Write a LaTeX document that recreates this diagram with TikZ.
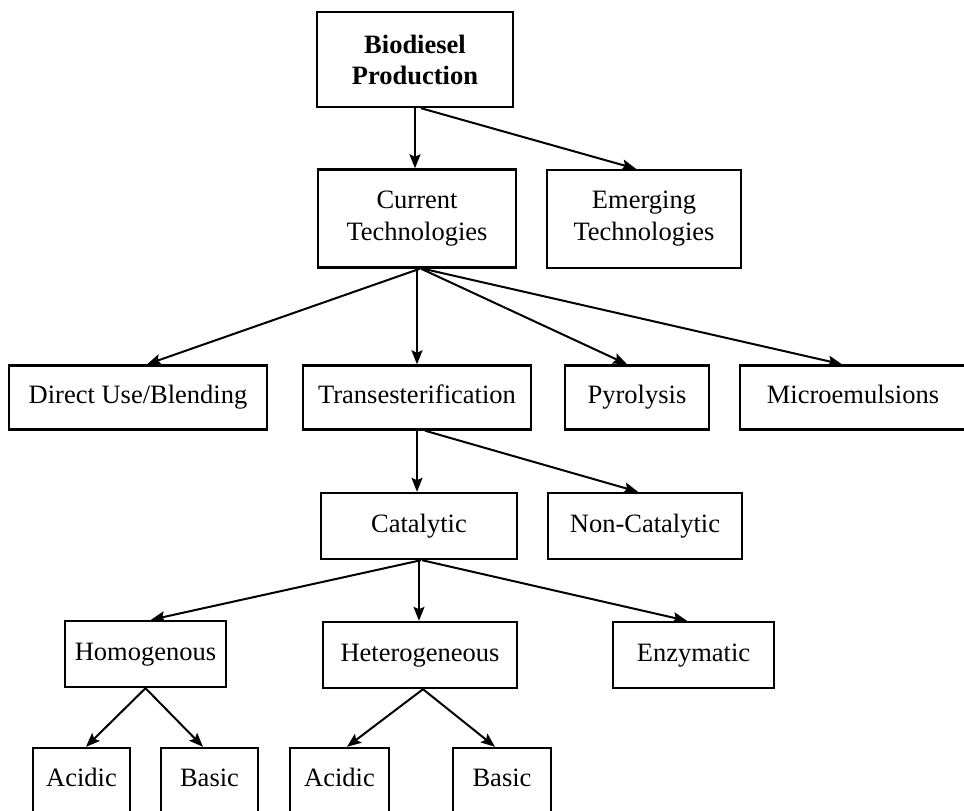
\documentclass[tikz,border=0pt]{standalone}
\usepackage{fontspec}
\setmainfont{Liberation Serif}
\usetikzlibrary{arrows.meta}
\begin{document}
\begin{tikzpicture}[x=1pt,y=-1pt,
  box/.style={draw, line width=2.4pt, rectangle, inner sep=0pt, align=center,
    font=\fontsize{26.5}{32}\selectfont},
  onebox/.style={box, text height=18pt, text depth=6pt},
  arr/.style={line width=2pt, -{Stealth[length=14pt,width=11pt,inset=2.5pt]}}]
\useasboundingbox (0,0) rectangle (964,811);
\clip (0,0) rectangle (964,811);
% row 1
\node[box, minimum width=196pt, minimum height=95pt,
      font=\bfseries\fontsize{26.5}{31}\selectfont] (bio) at (415,59.5) {Biodiesel\\Production};
% row 2
\node[box, minimum width=198pt, minimum height=98pt] (cur) at (417,218.5) {Current\\Technologies};
\node[box, minimum width=194pt, minimum height=98pt] (emer) at (644,219) {Emerging\\Technologies};
% row 3
\node[onebox, minimum width=258pt, minimum height=64pt] (direct) at (138,397.5) {Direct Use/Blending};
\node[onebox, minimum width=228pt, minimum height=64pt] (trans) at (417,397.5) {Transesterification};
\node[onebox, minimum width=144pt, minimum height=64pt] (pyro) at (637,397.5) {Pyrolysis};
\node[onebox, minimum width=226pt, minimum height=64pt] (micro) at (853,397.5) {Microemulsions};
% row 4
\node[onebox, minimum width=196pt, minimum height=66pt] (cat) at (419,526) {Catalytic};
\node[onebox, minimum width=194pt, minimum height=66pt] (noncat) at (645,526) {Non-Catalytic};
% row 5
\node[onebox, minimum width=161pt, minimum height=66pt] (homog) at (145.5,654) {Homogenous};
\node[onebox, minimum width=194pt, minimum height=66pt] (hetero) at (420,655) {Heterogeneous};
\node[onebox, minimum width=161pt, minimum height=66pt] (enzy) at (693.5,655) {Enzymatic};
% row 6
\node[onebox, minimum width=97pt, minimum height=64pt] (a1) at (81.5,780) {Acidic};
\node[onebox, minimum width=97pt, minimum height=64pt] (b1) at (209.5,780) {Basic};
\node[onebox, minimum width=99pt, minimum height=64pt] (a2) at (339.5,780) {Acidic};
\node[onebox, minimum width=98pt, minimum height=64pt] (b2) at (502,780) {Basic};
% arrows
\draw[arr] (bio.south) -- (bio.south |- cur.north);
\draw[arr] ([xshift=6pt]bio.south) -- ([xshift=-8pt]emer.north);
\draw[arr] ([xshift=3pt]cur.south) -- ([xshift=9pt]direct.north);
\draw[arr] (cur.south) -- (cur.south |- trans.north);
\draw[arr] ([xshift=4pt]cur.south) -- ([xshift=-10pt]pyro.north);
\draw[arr] ([xshift=6pt]cur.south) -- ([xshift=-11pt]micro.north);
\draw[arr] (trans.south) -- (trans.south |- cat.north);
\draw[arr] ([xshift=8pt]trans.south) -- ([xshift=-7pt]noncat.north);
\draw[arr] ([xshift=2pt]cat.south) -- ([xshift=5.5pt]homog.north);
\draw[arr] (cat.south) -- (cat.south |- hetero.north);
\draw[arr] ([xshift=3pt]cat.south) -- ([xshift=-6.5pt]enzy.north);
\draw[arr] (homog.south) -- ([xshift=4.5pt]a1.north);
\draw[arr] (homog.south) -- ([xshift=-6.5pt]b1.north);
\draw[arr] ([xshift=3pt]hetero.south) -- ([xshift=7.5pt]a2.north);
\draw[arr] ([xshift=3pt]hetero.south) -- ([xshift=-7pt]b2.north);
\end{tikzpicture}
\end{document}
